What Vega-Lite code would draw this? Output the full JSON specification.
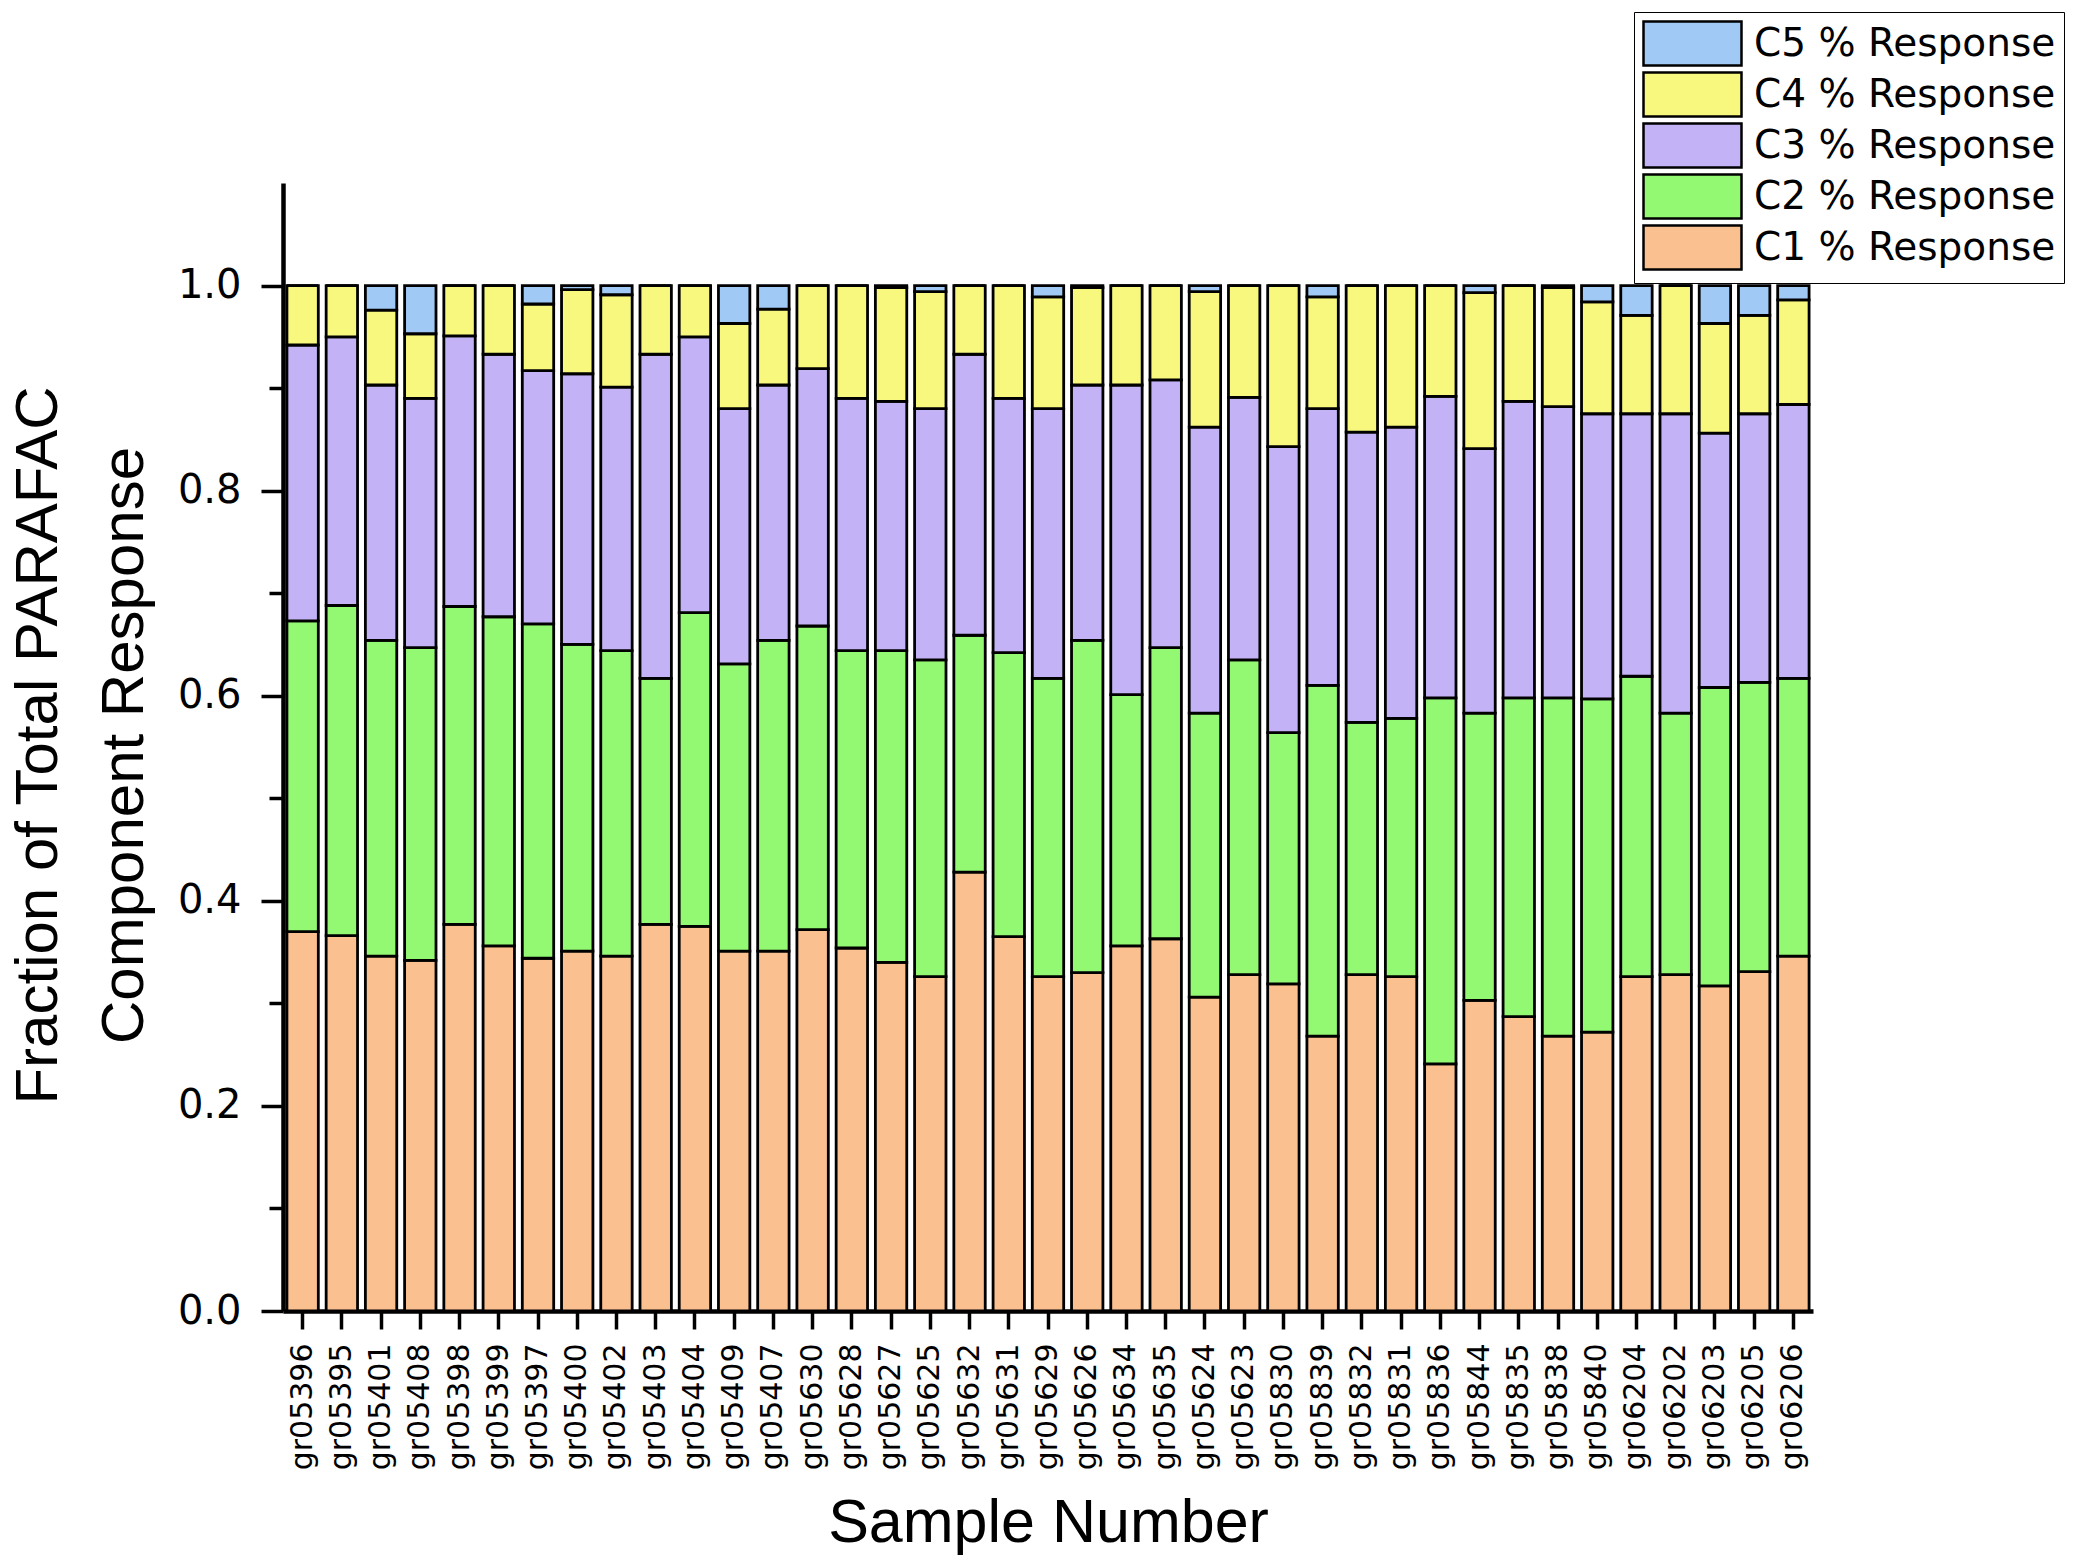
{
  "$schema": "https://vega.github.io/schema/vega-lite/v6.json",
  "width": 1530,
  "height": 1128,
  "autosize": {"type": "none"},
  "padding": {"left": 283, "top": 183, "right": 282, "bottom": 255},
  "background": "white",
  "config": {
    "view": {"stroke": null},
    "axis": {"grid": false, "domainColor": "black", "tickColor": "black", "labelColor": "black", "titleColor": "black", "titleFont": "Liberation Sans", "titleFontWeight": "normal", "labelFont": "DejaVu Sans"},
    "legend": {"strokeColor": "black", "fillColor": "white", "padding": 8}
  },
  "data": {
    "values": [
      {"sample": "gr05396", "C1": 0.370, "C2": 0.303, "C3": 0.269, "C4": 0.058, "C5": 0},
      {"sample": "gr05395", "C1": 0.366, "C2": 0.322, "C3": 0.262, "C4": 0.050, "C5": 0},
      {"sample": "gr05401", "C1": 0.346, "C2": 0.308, "C3": 0.249, "C4": 0.073, "C5": 0.024},
      {"sample": "gr05408", "C1": 0.342, "C2": 0.305, "C3": 0.243, "C4": 0.063, "C5": 0.047},
      {"sample": "gr05398", "C1": 0.377, "C2": 0.310, "C3": 0.264, "C4": 0.049, "C5": 0},
      {"sample": "gr05399", "C1": 0.356, "C2": 0.321, "C3": 0.256, "C4": 0.067, "C5": 0},
      {"sample": "gr05397", "C1": 0.344, "C2": 0.326, "C3": 0.247, "C4": 0.065, "C5": 0.018},
      {"sample": "gr05400", "C1": 0.351, "C2": 0.299, "C3": 0.264, "C4": 0.082, "C5": 0.004},
      {"sample": "gr05402", "C1": 0.346, "C2": 0.298, "C3": 0.257, "C4": 0.090, "C5": 0.009},
      {"sample": "gr05403", "C1": 0.377, "C2": 0.240, "C3": 0.316, "C4": 0.067, "C5": 0},
      {"sample": "gr05404", "C1": 0.375, "C2": 0.306, "C3": 0.269, "C4": 0.050, "C5": 0},
      {"sample": "gr05409", "C1": 0.351, "C2": 0.280, "C3": 0.249, "C4": 0.083, "C5": 0.037},
      {"sample": "gr05407", "C1": 0.351, "C2": 0.303, "C3": 0.249, "C4": 0.074, "C5": 0.023},
      {"sample": "gr05630", "C1": 0.372, "C2": 0.296, "C3": 0.251, "C4": 0.081, "C5": 0},
      {"sample": "gr05628", "C1": 0.354, "C2": 0.290, "C3": 0.246, "C4": 0.110, "C5": 0},
      {"sample": "gr05627", "C1": 0.340, "C2": 0.304, "C3": 0.243, "C4": 0.111, "C5": 0.002},
      {"sample": "gr05625", "C1": 0.326, "C2": 0.309, "C3": 0.245, "C4": 0.114, "C5": 0.006},
      {"sample": "gr05632", "C1": 0.428, "C2": 0.231, "C3": 0.274, "C4": 0.067, "C5": 0},
      {"sample": "gr05631", "C1": 0.365, "C2": 0.277, "C3": 0.248, "C4": 0.110, "C5": 0},
      {"sample": "gr05629", "C1": 0.326, "C2": 0.291, "C3": 0.263, "C4": 0.109, "C5": 0.011},
      {"sample": "gr05626", "C1": 0.330, "C2": 0.324, "C3": 0.249, "C4": 0.095, "C5": 0.002},
      {"sample": "gr05634", "C1": 0.356, "C2": 0.245, "C3": 0.302, "C4": 0.097, "C5": 0},
      {"sample": "gr05635", "C1": 0.363, "C2": 0.284, "C3": 0.261, "C4": 0.092, "C5": 0},
      {"sample": "gr05624", "C1": 0.306, "C2": 0.277, "C3": 0.279, "C4": 0.132, "C5": 0.006},
      {"sample": "gr05623", "C1": 0.328, "C2": 0.307, "C3": 0.256, "C4": 0.109, "C5": 0},
      {"sample": "gr05830", "C1": 0.319, "C2": 0.245, "C3": 0.279, "C4": 0.157, "C5": 0},
      {"sample": "gr05839", "C1": 0.268, "C2": 0.342, "C3": 0.270, "C4": 0.109, "C5": 0.011},
      {"sample": "gr05832", "C1": 0.328, "C2": 0.246, "C3": 0.283, "C4": 0.143, "C5": 0},
      {"sample": "gr05831", "C1": 0.326, "C2": 0.252, "C3": 0.284, "C4": 0.138, "C5": 0},
      {"sample": "gr05836", "C1": 0.241, "C2": 0.357, "C3": 0.294, "C4": 0.108, "C5": 0},
      {"sample": "gr05844", "C1": 0.303, "C2": 0.280, "C3": 0.258, "C4": 0.152, "C5": 0.007},
      {"sample": "gr05835", "C1": 0.287, "C2": 0.311, "C3": 0.289, "C4": 0.113, "C5": 0},
      {"sample": "gr05838", "C1": 0.268, "C2": 0.330, "C3": 0.284, "C4": 0.116, "C5": 0.002},
      {"sample": "gr05840", "C1": 0.272, "C2": 0.325, "C3": 0.278, "C4": 0.109, "C5": 0.016},
      {"sample": "gr06204", "C1": 0.326, "C2": 0.293, "C3": 0.256, "C4": 0.096, "C5": 0.029},
      {"sample": "gr06202", "C1": 0.328, "C2": 0.255, "C3": 0.292, "C4": 0.125, "C5": 0},
      {"sample": "gr06203", "C1": 0.317, "C2": 0.291, "C3": 0.248, "C4": 0.107, "C5": 0.037},
      {"sample": "gr06205", "C1": 0.331, "C2": 0.282, "C3": 0.262, "C4": 0.096, "C5": 0.029},
      {"sample": "gr06206", "C1": 0.346, "C2": 0.271, "C3": 0.267, "C4": 0.102, "C5": 0.014}
    ]
  },
  "transform": [
    {"fold": ["C1", "C2", "C3", "C4", "C5"], "as": ["component", "value"]}
  ],
  "mark": {"type": "bar", "stroke": "black", "strokeWidth": 2.8, "opacity": 1},
  "encoding": {
    "x": {
      "field": "sample",
      "type": "nominal",
      "sort": null,
      "scale": {"paddingInner": 0.2, "paddingOuter": 0.1},
      "axis": {
        "title": "Sample Number",
        "titleFontSize": 61,
        "titleY": 230,
        "titleBaseline": "alphabetic",
        "labelAngle": 270,
        "labelFontSize": 30,
        "labelPadding": 14,
        "tickSize": 18,
        "tickWidth": 3.5,
        "domainWidth": 4.5
      }
    },
    "y": {
      "field": "value",
      "type": "quantitative",
      "stack": "zero",
      "scale": {"domain": [0, 1.1], "nice": false},
      "axis": {
        "title": ["Fraction of Total PARAFAC", "Component Response"],
        "titleFontSize": 60,
        "titleLineHeight": 86,
        "titleAngle": 270,
        "titleBaseline": "middle",
        "titleAlign": "center",
        "titleX": -245,
        "titleY": 562,
        "values": [0, 0.1, 0.2, 0.3, 0.4, 0.5, 0.6, 0.7, 0.8, 0.9, 1.0],
        "labelExpr": "round(datum.value * 10) % 2 == 0 ? format(datum.value, '.1f') : ''",
        "tickSize": {"condition": {"test": "round(datum.value * 10) % 2 == 0", "value": 22}, "value": 14},
        "labelFontSize": 40,
        "labelPadding": 20,
        "tickWidth": 3.5,
        "domainWidth": 4.5
      }
    },
    "color": {
      "field": "component",
      "type": "nominal",
      "scale": {
        "domain": ["C1", "C2", "C3", "C4", "C5"],
        "range": ["#FBC08F", "#93F872", "#C4B2F7", "#F8F87E", "#A0C9F6"]
      },
      "legend": {
        "orient": "none",
        "legendX": 1351,
        "legendY": -171,
        "title": null,
        "values": ["C5", "C4", "C3", "C2", "C1"],
        "labelExpr": "datum.label + ' % Response'",
        "labelFont": "DejaVu Sans",
        "labelFontSize": 39,
        "labelLimit": 0,
        "labelColor": "black",
        "labelOffset": 65,
        "symbolType": "M-1,-1L3.4545,-1L3.4545,1L-1,1Z",
        "symbolSize": 1936,
        "symbolStrokeColor": "black",
        "symbolStrokeWidth": 2.5,
        "symbolOpacity": 1,
        "rowPadding": -4
      }
    },
    "order": {"field": "component", "sort": "ascending"}
  }
}
